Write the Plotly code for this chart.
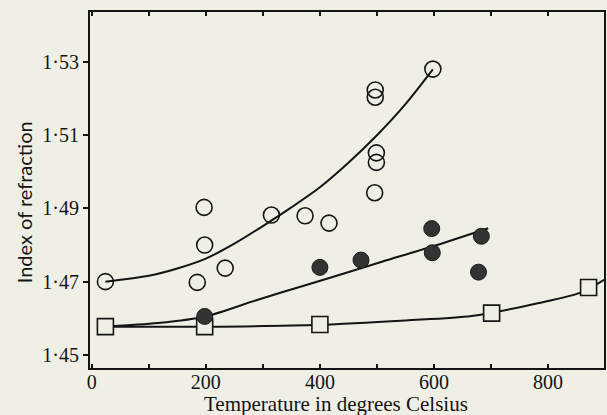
import plotly.graph_objects as go

# ---- data ----
open_x = [24, 197, 198, 185, 234, 315, 374, 416, 497, 497, 499, 499, 496, 598]
open_y = [1.4700, 1.4903, 1.4800, 1.4698, 1.4737, 1.4882, 1.4880, 1.4860,
          1.5224, 1.5204, 1.5052, 1.5026, 1.4943, 1.5281]

filled_x = [198, 400, 472, 596, 597, 683, 678]
filled_y = [1.4605, 1.4739, 1.4759, 1.4845, 1.4779, 1.4824, 1.4726]

square_x = [24, 198, 400, 701, 871]
square_y = [1.4577, 1.4577, 1.4583, 1.4614, 1.4684]

curve1_x = [24, 100, 150, 200, 250, 300, 350, 400, 450, 500, 550, 598]
curve1_y = [1.4700, 1.4716, 1.4736, 1.4763, 1.4804, 1.4852, 1.4903, 1.4958,
            1.5025, 1.5100, 1.5185, 1.5280]

curve2_x = [24, 116, 200, 290, 376, 452, 510, 597, 695]
curve2_y = [1.4577, 1.4587, 1.4605, 1.4650, 1.4691, 1.4727, 1.4755, 1.4796, 1.4846]

curve3_x = [24, 200, 400, 550, 666, 782, 857, 898]
curve3_y = [1.4577, 1.4577, 1.4582, 1.4594, 1.4606, 1.4641, 1.4670, 1.4705]

x_tickvals = [0, 100, 200, 300, 400, 500, 600, 700, 800]
x_ticktext = ["0", "", "200", "", "400", "", "600", "", "800"]
y_tickvals = [1.45, 1.47, 1.49, 1.51, 1.53]
y_ticktext = ["1·45", "1·47", "1·49", "1·51", "1·53"]

BG = "#efefe6"
INK = "#141414"

fig = go.Figure()
for cx, cy in [(curve1_x, curve1_y), (curve2_x, curve2_y), (curve3_x, curve3_y)]:
    fig.add_trace(go.Scatter(x=cx, y=cy, mode="lines",
                             line=dict(color=INK, width=2, shape="spline", smoothing=0.8),
                             hoverinfo="skip", showlegend=False))

fig.add_trace(go.Scatter(x=square_x, y=square_y, mode="markers",
                         marker=dict(symbol="square", size=16, color=BG,
                                     line=dict(color=INK, width=1.6)),
                         showlegend=False))
fig.add_trace(go.Scatter(x=open_x, y=open_y, mode="markers",
                         marker=dict(symbol="circle", size=16, color="rgba(0,0,0,0)",
                                     line=dict(color=INK, width=1.6)),
                         showlegend=False))
fig.add_trace(go.Scatter(x=filled_x, y=filled_y, mode="markers",
                         marker=dict(symbol="circle", size=16, color="#333333",
                                     line=dict(color="#1a1a1a", width=1)),
                         showlegend=False))

serif = "Liberation Serif"
fig.update_layout(
    width=607, height=415,
    margin=dict(l=90, r=1, t=12, b=47),
    paper_bgcolor=BG, plot_bgcolor=BG,
    font=dict(family=serif, color=INK, size=19),
    xaxis=dict(range=[-3, 898], tickvals=x_tickvals, ticktext=x_ticktext,
               ticks="inside", ticklen=4, tickwidth=1.5, tickcolor=INK,
               showline=True, linecolor=INK, linewidth=2, mirror="ticks",
               showgrid=False, zeroline=False, ticklabelstandoff=-5,
               tickfont=dict(family=serif, size=20, color=INK)),
    yaxis=dict(range=[1.4464, 1.5437], tickvals=y_tickvals, ticktext=y_ticktext,
               ticks="outside", ticklen=5, tickwidth=1.5, tickcolor=INK,
               showline=True, linecolor=INK, linewidth=2, mirror=True,
               showgrid=False, zeroline=False,
               tickfont=dict(family=serif, size=20, color=INK)),
    yaxis2=dict(overlaying="y", matches="y", side="right", range=[1.4464, 1.5437],
                tickvals=y_tickvals, showticklabels=False,
                ticks="inside", ticklen=5, tickwidth=1.5, tickcolor=INK,
                showline=False, showgrid=False, zeroline=False),
    annotations=[
        dict(text="Temperature in degrees Celsius", xref="paper", yref="paper",
             x=0.479, y=-0.062, xanchor="center", yanchor="top", showarrow=False,
             font=dict(family=serif, size=21, color=INK)),
        dict(text="Index of refraction", xref="paper", yref="paper",
             x=-0.128, y=0.466, xanchor="center", yanchor="middle", showarrow=False,
             textangle=-90, font=dict(family="Lato", size=20, color=INK)),
    ],
)

fig.write_html("out.html", config={"displayModeBar": False},
               post_script="document.body.style.margin='0';document.body.style.overflow='hidden';")
